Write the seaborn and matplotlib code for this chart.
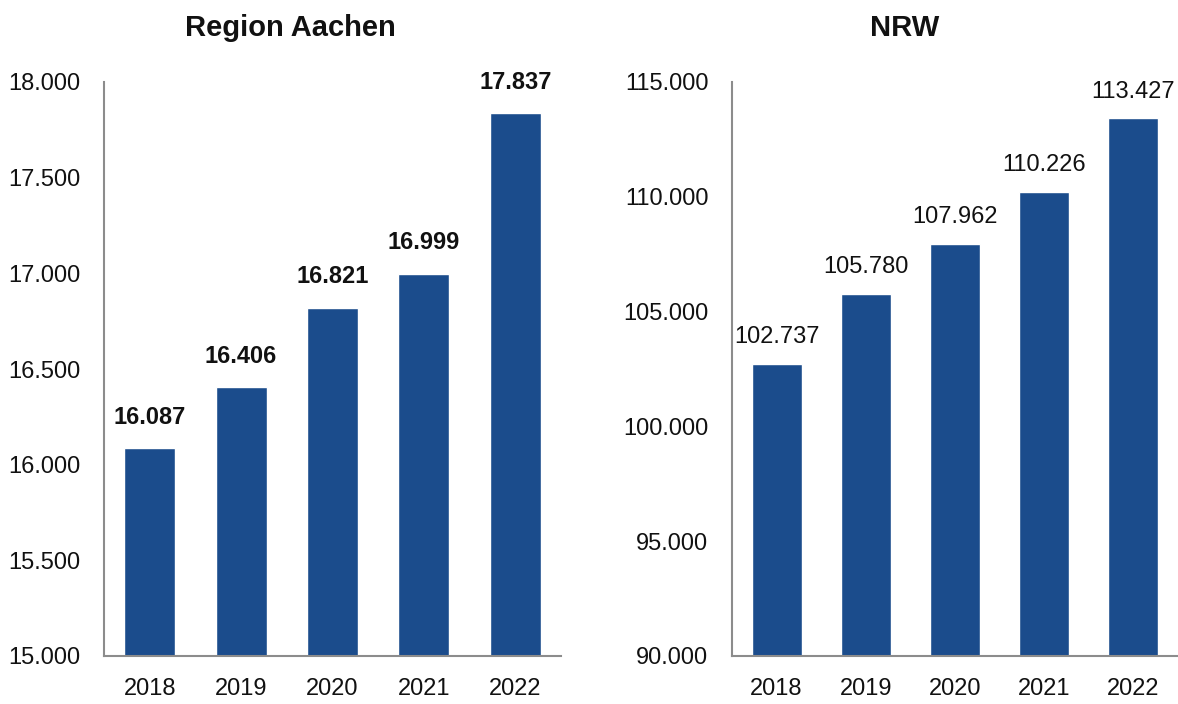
import matplotlib
matplotlib.use("Agg")
import numpy as np
import pandas as pd
import seaborn as sns
import matplotlib.pyplot as plt

years = ["2018", "2019", "2020", "2021", "2022"]
aachen = [16087, 16406, 16821, 16999, 17837]
nrw = [102737, 105780, 107962, 110226, 113427]

aachen_ticks = [15000, 15500, 16000, 16500, 17000, 17500, 18000]
nrw_ticks = [90000, 95000, 100000, 105000, 110000, 115000]

sns.set_style("white")
plt.rcParams["font.family"] = ["Liberation Sans", "DejaVu Sans"]

BLUE = "#1b4c8c"
W, H = 1178, 704


def de_fmt(v):
    return f"{v:,.0f}".replace(",", ".")


def panel(ax, vals, ticks, bold, off):
    df = pd.DataFrame({"year": years, "value": vals})
    sns.barplot(data=df, x="year", y="value", color=BLUE, width=0.56,
                saturation=1, ax=ax)
    ax.set_ylim(ticks[0], ticks[-1])
    ax.set_yticks(ticks)
    ax.set_yticklabels([de_fmt(t) for t in ticks])
    ax.set_xlabel("")
    ax.set_ylabel("")
    ax.tick_params(axis="both", length=0, labelsize=17, colors="#111111")
    ax.tick_params(axis="y", pad=17)
    ax.tick_params(axis="x", pad=16)
    for s in ["top", "right"]:
        ax.spines[s].set_visible(False)
    for s in ["left", "bottom"]:
        ax.spines[s].set_color("#8c8c8c")
        ax.spines[s].set_linewidth(1.5)
    for p, v in zip(ax.patches, vals):
        ax.annotate(de_fmt(v), (p.get_x() + p.get_width() / 2, p.get_height()),
                    xytext=(0, off), textcoords="offset points",
                    ha="center", va="bottom", fontsize=17,
                    fontweight="bold" if bold else "normal", color="#111111")


fig = plt.figure(figsize=(W / 100, H / 100), dpi=100)
ax1 = fig.add_axes([104 / W, (H - 656) / H, 457 / W, 574 / H])
ax2 = fig.add_axes([732 / W, (H - 656) / H, 446 / W, 574 / H])
panel(ax1, aachen, aachen_ticks, True, 14)
panel(ax2, nrw, nrw_ticks, False, 11)

fig.text(290 / W, 1 - 28 / H, "Region Aachen", ha="center", va="center",
         fontsize=21, fontweight="bold", color="#111111")
fig.text(905 / W, 1 - 28 / H, "NRW", ha="center", va="center",
         fontsize=21, fontweight="bold", color="#111111")

fig.savefig("out.png", dpi=100)
